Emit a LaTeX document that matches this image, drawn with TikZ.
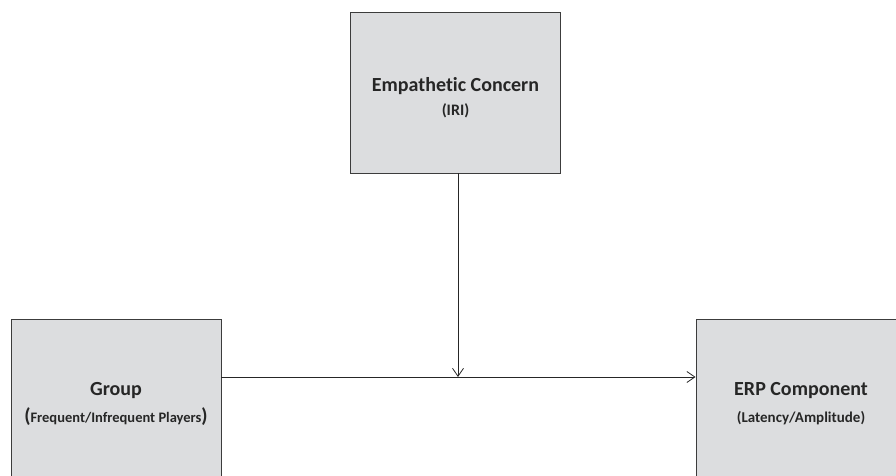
\documentclass[tikz,border=0pt]{standalone}
\usepackage{fontspec}
\setmainfont{Carlito}[Ligatures=NoCommon]
\usepackage{tikz}
\usetikzlibrary{positioning,arrows.meta}
\definecolor{boxgray}{HTML}{DCDDDF}
\definecolor{edgegray}{HTML}{3C3C3C}
\definecolor{textgray}{HTML}{262626}

\begin{document}
\begin{tikzpicture} [x=1pt,y=-1pt,
	varbox/.style={
		rectangle,draw=edgegray,fill=boxgray,line width=0.9pt,
		minimum width=210pt,minimum height=161pt,
		align=center,text=textgray,font=\bfseries\fontsize{20}{24}\selectfont},
	tip/.style={
		-{Straight Barb[length=8pt,width=11pt]},line width=0.8pt,draw=black!85}]
\useasboundingbox (0,0) rectangle (896,476);
\node[varbox] (concern) 	at (455.5,92.5) {\rule{0pt}{25pt}Empathetic Concern\\[0pt]{\fontsize{16}{18}\selectfont (IRI)}};
\node[varbox] (group) 		at (116,399.5) {\rule{0pt}{22pt}Group\\[3pt]({\fontsize{14.5}{16}\selectfont Frequent/Infrequent Players})};
\node[varbox] (erp) 		at (801,399.5) {\rule{0pt}{22pt}ERP Component\\[3pt]{\fontsize{15}{17}\selectfont (Latency/Amplitude)}};
\coordinate (join) at (458,377);
\draw[tip] (group.east |- join) -- (erp.west |- join);
\draw[tip] (concern.south -| join) -- (join);
\end{tikzpicture}
\end{document}
